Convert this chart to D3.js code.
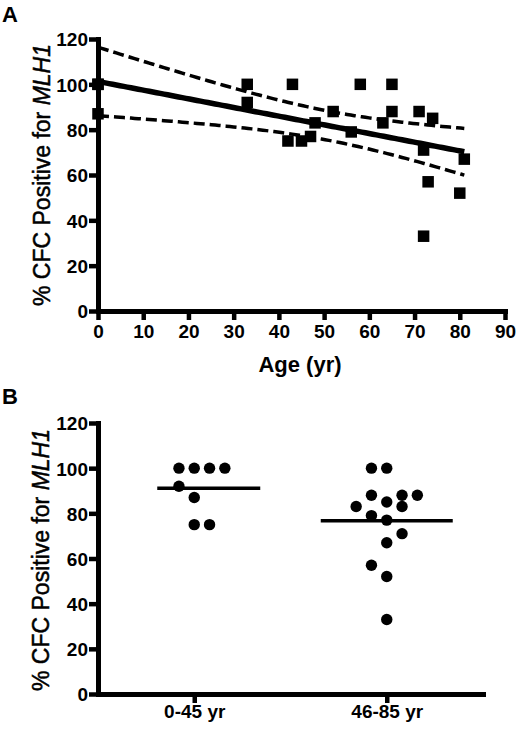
<!DOCTYPE html>
<html>
<head>
<meta charset="utf-8">
<script src="https://cdn.jsdelivr.net/npm/d3@7"></script>
<style>
  html, body { margin: 0; padding: 0; background: #fff; }
  svg { display: block; font-family: "Liberation Sans", Arial, Helvetica, sans-serif; }
</style>
</head>
<body>
<svg id="chart" width="520" height="730"></svg>
<script>
// ---------- Data ----------
// Panel A: age (yr) vs % CFC positive for MLH1
const ages   = [0, 0, 0, 33, 33, 43, 42, 45, 47, 48, 52, 56, 58, 65, 65, 63, 71, 74, 72, 73, 72, 81, 80];
const pctPos = [100, 100, 87, 100, 92, 100, 75, 75, 77, 83, 88, 79, 100, 100, 88, 83, 88, 85, 71, 57, 33, 67, 52];
const xTicksA = [0, 10, 20, 30, 40, 50, 60, 70, 80, 90];
const yTicks  = [0, 20, 40, 60, 80, 100, 120];

// Panel B: grouped by age
const groups = ["0-45 yr", "46-85 yr"];
const group1Values = [100, 100, 100, 100, 92, 87, 75, 75];
const group1Slots  = [-1, 0, 1, 2, -1, 0, 0, 1];
const group2Values = [100, 100, 88, 88, 88, 85, 83, 83, 79, 77, 71, 67, 57, 52, 33];
const group2Slots  = [-1, 0, -1, 1, 2, 0, -2, 1, -1, 0, 1, 0, -1, 0, 0];

// ---------- Setup ----------
const svg = d3.select("#chart");
const tickFont = 19;

function styleAxis(g) {
  g.select(".domain").attr("stroke", "#000").attr("stroke-width", 5).attr("stroke-linecap", "square");
  g.selectAll(".tick line").attr("stroke", "#000").attr("stroke-width", 4.5);
  g.selectAll(".tick text")
    .attr("fill", "#000")
    .style("font-size", tickFont + "px")
    .style("font-weight", "bold")
    .style("font-family", "'Liberation Sans', Arial, sans-serif");
}

function yTitle(cx, cy) {
  const t = svg.append("text")
    .attr("transform", `translate(${cx},${cy}) rotate(-90)`)
    .attr("text-anchor", "middle")
    .style("font-size", "23px")
    .attr("fill", "#000")
    .attr("stroke", "#000")
    .attr("stroke-width", 0.5);
  t.append("tspan").text("% CFC Positive for ");
  t.append("tspan").style("font-style", "italic").text("MLH1");
}

// ---------- Panel A ----------
const xA = d3.scaleLinear().domain([0, 90]).range([98, 505]);
const yA = d3.scaleLinear().domain([0, 120]).range([311, 39]);

svg.append("text").attr("x", 2).attr("y", 22)
  .style("font-size", "22px").style("font-weight", "bold").text("A");

// regression with 95% confidence band
const n = ages.length;
const mx = d3.mean(ages), my = d3.mean(pctPos);
let sxx = 0, sxy = 0;
for (let i = 0; i < n; i++) { sxx += (ages[i] - mx) ** 2; sxy += (ages[i] - mx) * (pctPos[i] - my); }
const slope = sxy / sxx, intercept = my - slope * mx;
let sse = 0;
for (let i = 0; i < n; i++) sse += (pctPos[i] - (intercept + slope * ages[i])) ** 2;
const s = Math.sqrt(sse / (n - 2));
const tCrit = 2.080; // t(0.975, df=21)
const [xmin, xmax] = d3.extent(ages);
const xs = d3.range(0, 101).map(i => xmin + (xmax - xmin) * i / 100);
const fitPts = xs.map(x => {
  const yh = intercept + slope * x;
  const se = s * Math.sqrt(1 / n + (x - mx) ** 2 / sxx);
  return { x, yh, lo: yh - tCrit * se, hi: yh + tCrit * se };
});

const plotA = svg.append("g");
plotA.append("path")
  .attr("d", d3.line().x(d => xA(d.x)).y(d => yA(d.hi))(fitPts))
  .attr("fill", "none").attr("stroke", "#000").attr("stroke-width", 3.5).attr("stroke-dasharray", "11,5");
plotA.append("path")
  .attr("d", d3.line().x(d => xA(d.x)).y(d => yA(d.lo))(fitPts))
  .attr("fill", "none").attr("stroke", "#000").attr("stroke-width", 3.5).attr("stroke-dasharray", "11,5");
plotA.append("path")
  .attr("d", d3.line().x(d => xA(d.x)).y(d => yA(d.yh))(fitPts))
  .attr("fill", "none").attr("stroke", "#000").attr("stroke-width", 5.5);

const sq = 11.5;
plotA.selectAll("rect.pt").data(ages.map((a, i) => ({ a, v: pctPos[i] })))
  .join("rect").attr("class", "pt")
  .attr("x", d => xA(d.a) - sq / 2).attr("y", d => yA(d.v) - sq / 2)
  .attr("width", sq).attr("height", sq).attr("fill", "#000");

const gxA = svg.append("g").attr("transform", `translate(0,${yA(0)})`)
  .call(d3.axisBottom(xA).tickValues(xTicksA).tickSize(9).tickSizeOuter(0).tickPadding(5));
styleAxis(gxA);
const gyA = svg.append("g").attr("transform", `translate(${xA(0)},0)`)
  .call(d3.axisLeft(yA).tickValues(yTicks).tickSize(9).tickSizeOuter(0).tickPadding(1));
styleAxis(gyA);
gyA.selectAll(".tick text").attr("dy", "0.36em");

svg.append("text").attr("x", 300).attr("y", 372).attr("text-anchor", "middle")
  .style("font-size", "22px").style("font-weight", "bold").text("Age (yr)");
yTitle(50, 175);

// ---------- Panel B ----------
const xB = d3.scalePoint().domain(groups).range([98, 483]).padding(0.5);
const yB = d3.scaleLinear().domain([0, 120]).range([694, 423]);

svg.append("text").attr("x", 2).attr("y", 404)
  .style("font-size", "22px").style("font-weight", "bold").text("B");

const slotW = 15.3;
const dotsB = [];
group1Values.forEach((v, i) => dotsB.push({ g: groups[0], v, slot: group1Slots[i] }));
group2Values.forEach((v, i) => dotsB.push({ g: groups[1], v, slot: group2Slots[i] }));

const plotB = svg.append("g");
plotB.selectAll("circle").data(dotsB).join("circle")
  .attr("cx", d => xB(d.g) + d.slot * slotW)
  .attr("cy", d => yB(d.v))
  .attr("r", 5.7).attr("fill", "#000");

const meanExtent = [[-37, 66], [-66, 66]];
const means = [d3.mean(group1Values), d3.mean(group2Values)];
plotB.selectAll("line.mean").data(groups).join("line").attr("class", "mean")
  .attr("x1", (g, i) => xB(g) + meanExtent[i][0])
  .attr("x2", (g, i) => xB(g) + meanExtent[i][1])
  .attr("y1", (g, i) => yB(means[i]))
  .attr("y2", (g, i) => yB(means[i]))
  .attr("stroke", "#000").attr("stroke-width", 3.5);

const gxB = svg.append("g").attr("transform", `translate(0,${yB(0)})`)
  .call(d3.axisBottom(xB).tickSize(9).tickSizeOuter(0).tickPadding(2));
styleAxis(gxB);
const gyB = svg.append("g").attr("transform", `translate(${xB.range()[0]},0)`)
  .call(d3.axisLeft(yB).tickValues(yTicks).tickSize(9).tickSizeOuter(0).tickPadding(1));
styleAxis(gyB);
gyB.selectAll(".tick text").attr("dy", "0.36em");

yTitle(49, 560);
</script>
</body>
</html>
